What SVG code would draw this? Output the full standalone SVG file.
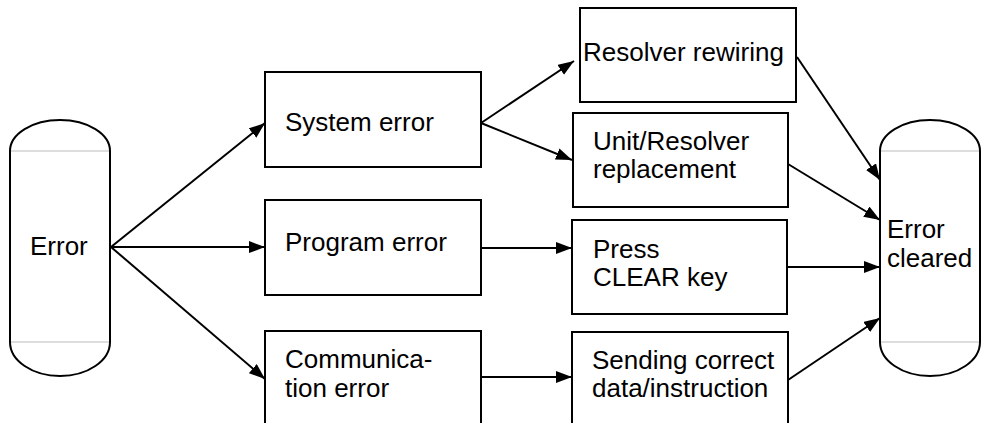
<svg xmlns="http://www.w3.org/2000/svg" width="985" height="423" viewBox="0 0 985 423">
<style>
.box{fill:#fff;stroke:#000;stroke-width:2}
.cyl{fill:#fff;stroke:#000;stroke-width:2}
.sep{stroke:#bbb;stroke-width:1}
.t{font-family:"Liberation Sans",Arial,sans-serif;font-size:26px;fill:#000}
.c{stroke:#000;stroke-width:2;fill:none;marker-end:url(#ah)}
</style>
<defs>
<marker id="ah" markerUnits="userSpaceOnUse" markerWidth="17" markerHeight="13" refX="16" refY="6" orient="auto">
<path d="M0,0 L16,6 L0,12 z" fill="#000"/>
</marker>
</defs>
<rect width="985" height="423" fill="#fff"/>
<g id="n-error">
<path class="cyl" d="M10,151 A50,31 0 0 1 110,151 L110,342 A50,34 0 0 1 10,342 Z"/>
<line class="sep" x1="11" y1="151" x2="109" y2="151"/>
<line class="sep" x1="11" y1="342" x2="109" y2="342"/>
<text class="t" x="30" y="255">Error</text>
</g>
<g id="n-cleared">
<path class="cyl" d="M880,151 A50,31 0 0 1 980,151 L980,342 A50,34 0 0 1 880,342 Z"/>
<line class="sep" x1="881" y1="151" x2="979" y2="151"/>
<line class="sep" x1="881" y1="342" x2="979" y2="342"/>
<text class="t" x="887" y="238">Error</text>
<text class="t" x="887" y="267">cleared</text>
</g>
<g id="n-system">
<rect class="box" x="265" y="72" width="216" height="95"/>
<text class="t" x="285" y="131">System error</text>
</g>
<g id="n-program">
<rect class="box" x="265" y="200" width="216" height="95"/>
<text class="t" x="285" y="251">Program error</text>
</g>
<g id="n-comm">
<rect class="box" x="265" y="331" width="216" height="100"/>
<text class="t" x="285" y="368">Communica-</text>
<text class="t" x="285" y="397">tion error</text>
</g>
<g id="n-rewiring">
<rect class="box" x="580" y="8" width="216" height="94"/>
<text class="t" x="583" y="61">Resolver rewiring</text>
</g>
<g id="n-replacement">
<rect class="box" x="573" y="113" width="215" height="94"/>
<text class="t" x="593" y="150">Unit/Resolver</text>
<text class="t" x="593" y="178">replacement</text>
</g>
<g id="n-clear">
<rect class="box" x="572" y="220" width="215" height="94"/>
<text class="t" x="593" y="258">Press</text>
<text class="t" x="593" y="286">CLEAR key</text>
</g>
<g id="n-sending">
<rect class="box" x="572" y="332" width="216" height="100"/>
<text class="t" x="592" y="369">Sending correct</text>
<text class="t" x="592" y="397">data/instruction</text>
</g>
<g id="connectors">
<line class="c" x1="111" y1="247" x2="265" y2="123"/>
<line class="c" x1="111" y1="247" x2="265" y2="247"/>
<line class="c" x1="111" y1="247" x2="265" y2="379"/>
<line class="c" x1="481" y1="123" x2="574" y2="61"/>
<line class="c" x1="481" y1="123" x2="572" y2="160"/>
<line class="c" x1="481" y1="248" x2="572" y2="248"/>
<line class="c" x1="481" y1="377" x2="572" y2="377"/>
<line class="c" x1="797" y1="57" x2="880" y2="180"/>
<line class="c" x1="788" y1="164" x2="880" y2="220"/>
<line class="c" x1="787" y1="267" x2="880" y2="267"/>
<line class="c" x1="788" y1="380" x2="880" y2="318"/>
</g>
</svg>
